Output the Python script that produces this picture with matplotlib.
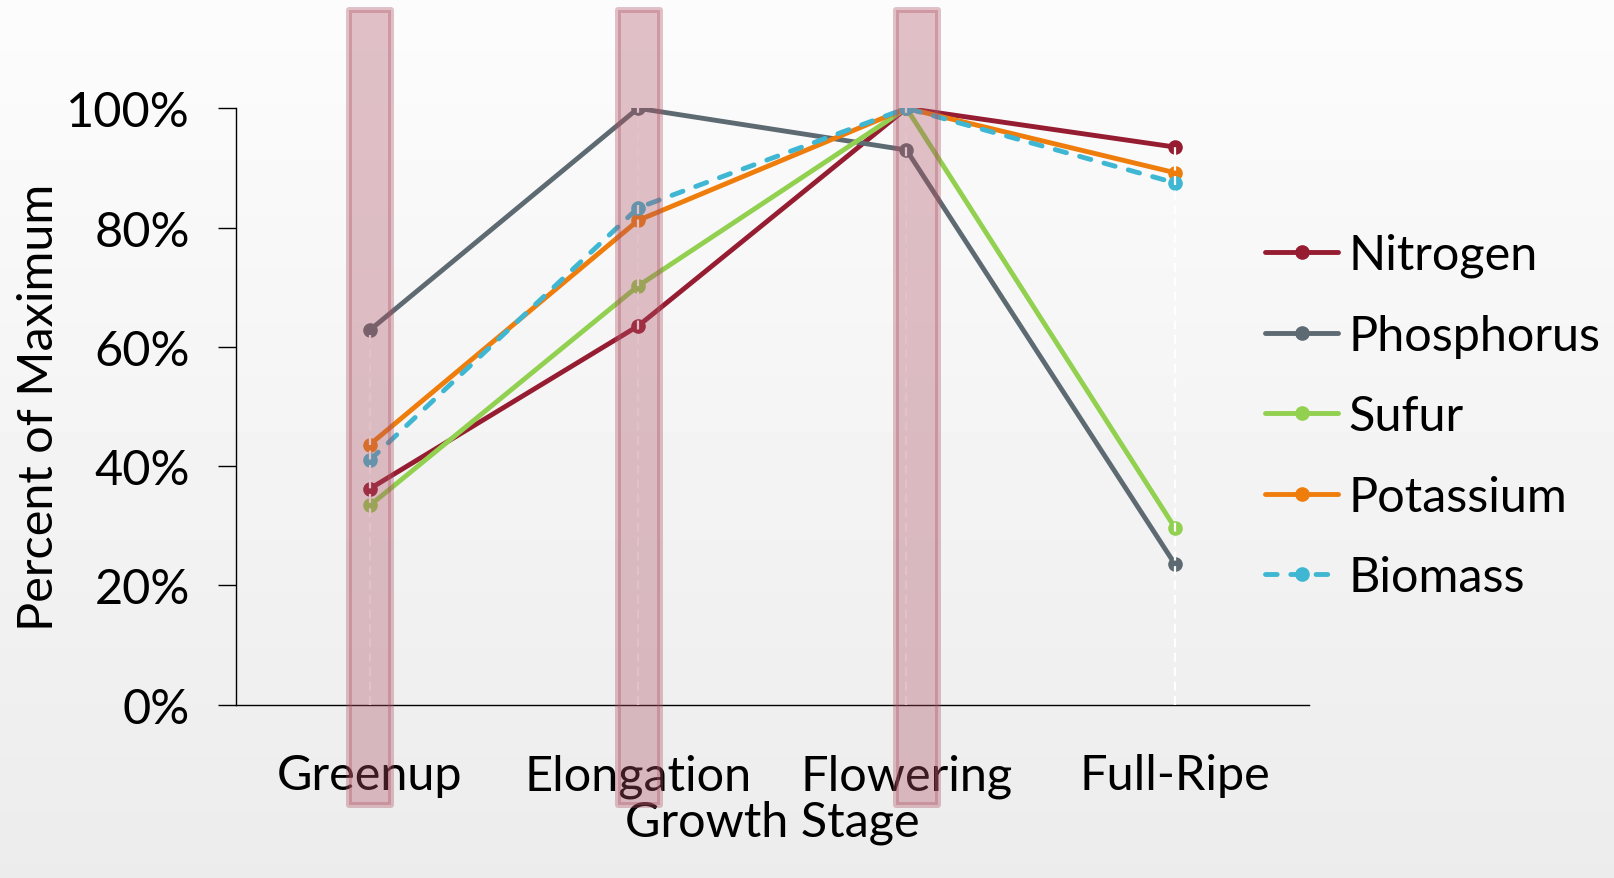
import numpy as np
import matplotlib
matplotlib.use("Agg")
import matplotlib.pyplot as plt
from matplotlib.patches import Rectangle
from matplotlib.ticker import PercentFormatter

# Nutrient uptake, percent of seasonal maximum
stages = ["Greenup", "Elongation", "Flowering", "Full-Ripe"]
nitrogen = [36.2, 63.5, 100.0, 93.5]
phosphorus = [62.8, 100.0, 93.0, 23.6]
sufur = [33.4, 70.2, 100.0, 29.7]
potassium = [43.6, 81.2, 100.0, 89.2]
biomass = [41.0, 83.3, 100.0, 87.5]

series = [
    ("Nitrogen", nitrogen, "#961c31", "-"),
    ("Phosphorus", phosphorus, "#5e6a72", "-"),
    ("Sufur", sufur, "#92d050", "-"),
    ("Potassium", potassium, "#ef7d0c", "-"),
    ("Biomass", biomass, "#3fb7d2", (0, (2.4, 2.8))),
]

# stages highlighted with a shaded band
highlight = ["Greenup", "Elongation", "Flowering"]

plt.rcParams["font.family"] = ["Lato", "DejaVu Sans"]
plt.rcParams["font.size"] = 35

fig = plt.figure(figsize=(16.14, 8.79), dpi=100)

# soft vertical gradient behind everything
bg = fig.add_axes([0, 0, 1, 1], zorder=-10)
grad = np.linspace(0.988, 0.925, 256).reshape(-1, 1)
bg.imshow(grad, cmap="gray", vmin=0, vmax=1, aspect="auto", extent=[0, 1, 0, 1])
bg.axis("off")

ax = fig.add_axes([0.146, 0.1972, 0.665, 0.6785])
ax.set_facecolor("none")

x = np.arange(len(stages))
for name, vals, color, ls in series:
    ax.plot(x, vals, color=color, linestyle=ls, lw=3.5, marker="o", ms=9.5,
            dash_capstyle="round", solid_capstyle="round", label=name, zorder=3)

# drop lines from the highest value at each stage
tops = np.max([s[1] for s in series], axis=0)
ax.vlines(x, 0, tops, colors="white", linestyles=(0, (4, 2.5)), lw=1.6, zorder=4)

ax.set_xlim(-0.5, len(stages) - 0.5)
ax.set_ylim(0, 100)
ax.set_yticks(np.arange(0, 101, 20))
ax.yaxis.set_major_formatter(PercentFormatter(100, decimals=0))
ax.set_xticks(x)
ax.set_xticklabels(stages)
ax.tick_params(axis="x", length=0, pad=35)
ax.tick_params(axis="y", length=13, width=1.0, direction="out", pad=20)
for side in ["top", "right"]:
    ax.spines[side].set_visible(False)
for side in ["left", "bottom"]:
    ax.spines[side].set_linewidth(1.0)

ax.set_xlabel("Growth Stage", labelpad=1)
ax.set_ylabel("Percent of Maximum", labelpad=4)

fig.legend(*ax.get_legend_handles_labels(), loc="center left",
           bbox_to_anchor=(0.784, 0.5255), frameon=False,
           handlelength=1.5, handletextpad=0.2, labelspacing=0.75,
           borderaxespad=0, borderpad=0)

# translucent bands drawn over the chart
band_offset = {"Greenup": 0.0, "Elongation": 0.004, "Flowering": 0.04}
for st in highlight:
    xc = stages.index(st) + band_offset[st]
    ax.add_patch(Rectangle((xc - 0.078, -16.8), 0.156, 133.3,
                           facecolor="#ad5163", edgecolor="#ad5163", alpha=0.35,
                           lw=4.3, joinstyle="round", clip_on=False, zorder=6))

fig.savefig("out.png", dpi=100)
